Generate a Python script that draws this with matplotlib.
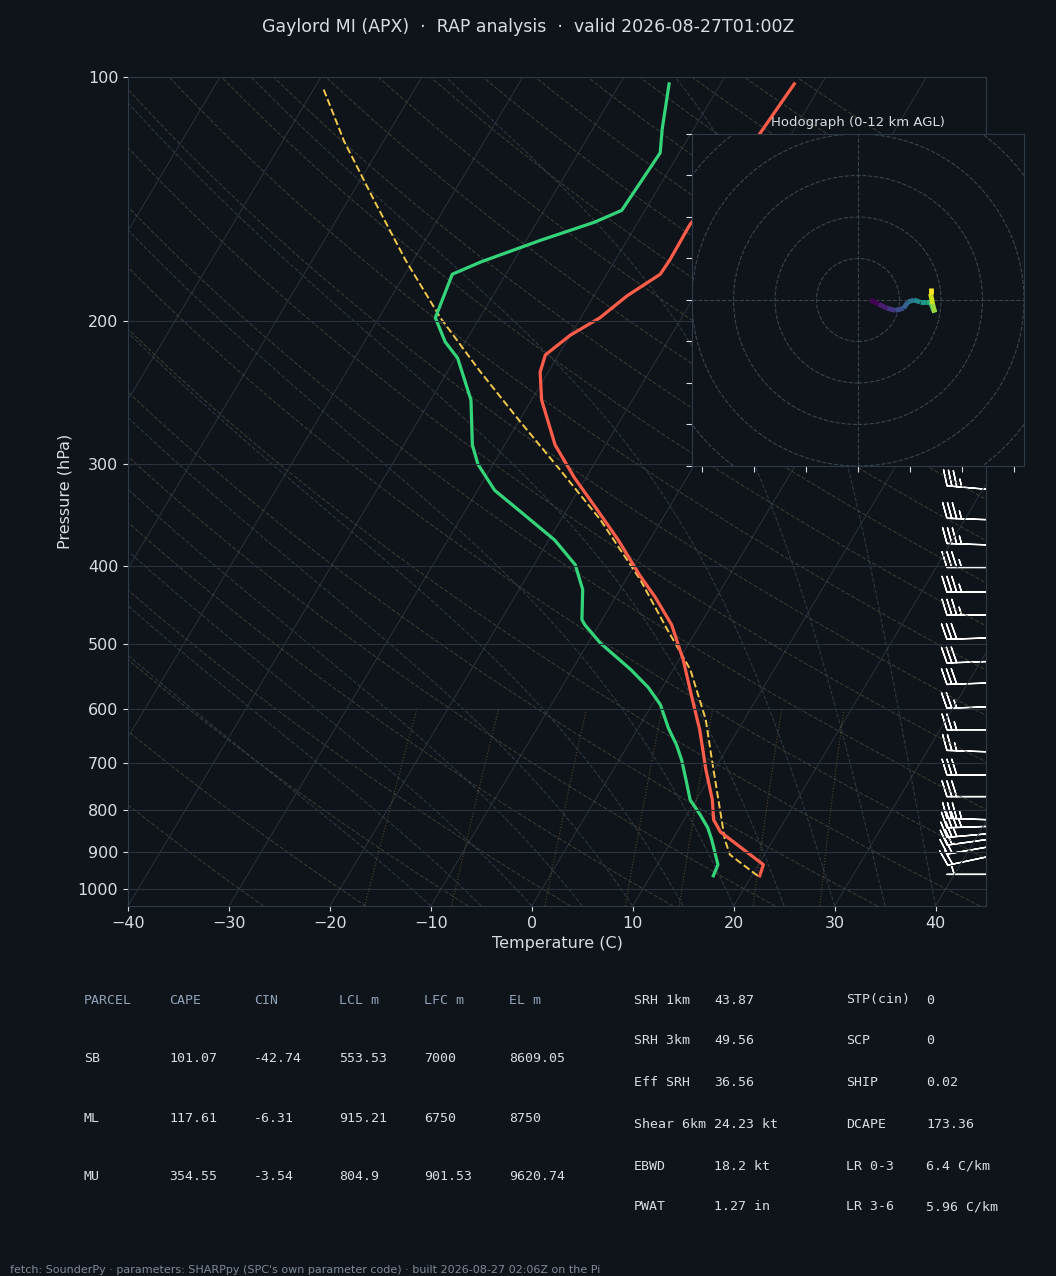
import numpy as np
import matplotlib.pyplot as plt

BG = '#0f141a'
GRID = '#2a333d'
TXT = '#d8dde3'

# sounding (hPa, C)
p_t = [964, 934, 851, 822, 777, 714, 637, 585, 522, 473, 437, 411, 372, 342, 312, 284, 250, 231, 220, 208, 198, 186, 175, 168, 152, 130, 102]
temp = [20.8, 20.5, 14.3, 12.9, 11.6, 9.2, 6.2, 3.7, 0.4, -2.8, -6.1, -8.9, -13.1, -16.9, -21.1, -25.0, -29.0, -30.8, -31.3, -30.0, -28.1, -26.7, -24.7, -24.6, -24.7, -23.5, -22.7]
p_td = [964, 934, 870, 841, 811, 777, 734, 694, 665, 634, 593, 565, 537, 498, 473, 466, 428, 399, 372, 343, 323, 300, 284, 250, 222, 212, 198, 175, 169, 159, 151, 146, 124, 116, 102]
dewp = [16.2, 16.0, 13.9, 12.8, 11.3, 9.4, 7.8, 6.2, 4.8, 3.0, 0.8, -1.4, -4.2, -8.8, -11.4, -12.0, -13.7, -15.9, -19.4, -24.5, -28.3, -31.5, -33.2, -36.0, -39.8, -42.0, -44.4, -45.3, -43.2, -38.6, -34.3, -32.3, -31.9, -33.1, -35.1]
p_parcel = [964, 908, 870, 777, 694, 619, 537, 480, 416, 351, 305, 265, 230, 198, 168, 142, 120, 103]
t_parcel = [20.6, 16.6, 15.2, 12.2, 9.2, 6.2, 1.7, -2.9, -8.6, -16.1, -23.0, -30.0, -36.9, -43.9, -50.8, -57.4, -63.9, -69.2]

# winds (hPa, deg, kt)
p_wind = [322, 351, 377, 402, 431, 460, 491, 525, 558, 597, 637, 678, 724, 770, 822, 838, 856, 870, 889, 914, 960]
wdir = [275, 272, 272, 270, 270, 270, 268, 268, 268, 268, 270, 272, 270, 270, 272, 268, 265, 262, 260, 258, 270]
wspd = [35, 35, 35, 35, 35, 35, 30, 30, 30, 25, 25, 25, 30, 30, 35, 35, 25, 20, 20, 20, 5]

# hodograph trace (kt)
hodo_u = [6, 10, 14, 18, 22, 24, 27, 30, 33, 35, 36, 37, 36, 35, 35]
hodo_v = [0, -2, -4, -5, -4, -1, 0, -1, -1, -1, -4, -6, -2, 3, 6]

SKEW = 48.1
def sx(t, p):
    return np.asarray(t) + SKEW * np.log10(1050.0 / np.asarray(p, dtype=float))

fig = plt.figure(figsize=(10.56, 12.76), dpi=100, facecolor=BG)
ax = fig.add_axes([0.1212, 0.29, 0.8125, 0.6497], facecolor=BG)
ax.set_yscale('log')
ax.set_ylim(1050, 100)
ax.set_xlim(-40, 45)

pp = np.logspace(np.log10(1050), 2, 200)
# isotherms
for t0 in range(-160, 50, 10):
    ax.plot(sx(np.full_like(pp, t0), pp), pp, color='#2a323b', lw=0.7)
# dry adiabats
for th in range(-30, 220, 10):
    tk = (th + 273.15) * (pp / 1000) ** 0.2857 - 273.15
    ax.plot(sx(tk, pp), pp, color='#454a3c', lw=0.8, ls='--', alpha=0.7)
# moist adiabats
def es(t):
    return 6.112 * np.exp(17.67 * t / (t + 243.5))
for t0 in range(-10, 45, 5):
    ps = np.linspace(1050, 100, 400)
    ts = [t0]
    for i in range(1, len(ps)):
        t = ts[-1]; tk = t + 273.15
        rs = 0.622 * es(t) / (ps[i-1] - es(t))
        num = 287 * tk + 2.5e6 * rs
        den = 1004 + 2.5e6**2 * rs * 0.622 / (287 * tk**2)
        dt = num / den / ps[i-1] * (ps[i] - ps[i-1])
        ts.append(t + dt)
    ax.plot(sx(ts, ps), ps, color='#33404a', lw=0.8, ls='--', alpha=0.8)
# mixing ratio lines
pm = np.linspace(1050, 600, 50)
for w in [1, 2, 4, 7, 10, 16, 24]:
    e = pm * w / 1000 / (0.622 + w / 1000)
    td = 243.5 * np.log(e / 6.112) / (17.67 - np.log(e / 6.112))
    ax.plot(sx(td, pm), pm, color='#6b5a3a', lw=0.8, ls=':', alpha=0.7)

ax.plot(sx(t_parcel, p_parcel), p_parcel, color='#f2c84b', lw=1.4, ls='--')
ax.plot(sx(temp, p_t), p_t, color='#ff5c4a', lw=2.3)
ax.plot(sx(dewp, p_td), p_td, color='#34d47a', lw=2.3)

yt = [100, 200, 300, 400, 500, 600, 700, 800, 900, 1000]
ax.set_yticks(yt)
ax.set_yticklabels([str(v) for v in yt])
ax.yaxis.set_minor_locator(plt.NullLocator())
for v in yt:
    ax.axhline(v, color=GRID, lw=0.8)
ax.set_xticks(range(-40, 50, 10))
ax.tick_params(colors=TXT, labelsize=11.5)
ax.set_xlabel('Temperature (C)', color=TXT, fontsize=11.5)
ax.set_ylabel('Pressure (hPa)', color=TXT, fontsize=11.5)
for s in ax.spines.values():
    s.set_color('#2e3a47')

wd = np.radians(wdir)
u = -np.array(wspd) * np.sin(wd)
v = -np.array(wspd) * np.cos(wd)
ax.barbs(np.full(len(p_wind), 45.0), p_wind, u, v, color='white', length=7.5, lw=1.0, clip_on=False)

# hodograph
hx = fig.add_axes([0.6553, 0.6348, 0.3144, 0.2602], facecolor=BG)
hx.set_xlim(-80, 80); hx.set_ylim(-80, 80)
for r in [20, 40, 60, 80, 100]:
    hx.add_patch(plt.Circle((0, 0), r, fill=False, color='#3a444f', ls='--', lw=0.8))
hx.axhline(0, color='#3a444f', ls='--', lw=0.8)
hx.axvline(0, color='#3a444f', ls='--', lw=0.8)
cols = plt.cm.viridis(np.linspace(0, 1, len(hodo_u) - 1))
for i in range(len(hodo_u) - 1):
    hx.plot(hodo_u[i:i+2], hodo_v[i:i+2], color=cols[i], lw=3.5, solid_capstyle='butt')
hx.set_xticks(range(-75, 100, 25)); hx.set_yticks(range(-80, 90, 20))
hx.set_xticklabels([]); hx.set_yticklabels([])
hx.tick_params(colors=TXT, direction='out', length=4)
for s in hx.spines.values():
    s.set_color('#2e3a47')
hx.set_title('Hodograph (0-12 km AGL)', color=TXT, fontsize=9.5, pad=6)

fig.text(0.5, 0.979, 'Gaylord MI (APX)  ·  RAP analysis  ·  valid 2026-08-27T01:00Z',
         ha='center', va='center', color=TXT, fontsize=12.5)

# parameter table
HDR = '#8fa3b8'
heads = ['PARCEL', 'CAPE', 'CIN', 'LCL m', 'LFC m', 'EL m']
rows = [['SB', '101.07', '-42.74', '553.53', '7000', '8609.05'],
        ['ML', '117.61', '-6.31', '915.21', '6750', '8750'],
        ['MU', '354.55', '-3.54', '804.9', '901.53', '9620.74']]
colx = [84, 169, 254, 339, 424, 509]
rowy = [1000, 1059, 1118, 1176]
for j, h in enumerate(heads):
    fig.text(colx[j] / 1056, 1 - rowy[0] / 1276, h, color=HDR, family='DejaVu Sans Mono', fontsize=9.5, va='center')
for i, r in enumerate(rows):
    for j, c in enumerate(r):
        fig.text(colx[j] / 1056, 1 - rowy[i+1] / 1276, c, color=TXT, family='DejaVu Sans Mono', fontsize=9.5, va='center')

left_lbl = ['SRH 1km', 'SRH 3km', 'Eff SRH', 'Shear 6km', 'EBWD', 'PWAT']
left_val = ['43.87', '49.56', '36.56', '24.23 kt', '18.2 kt', '1.27 in']
right_lbl = ['STP(cin)', 'SCP', 'SHIP', 'DCAPE', 'LR 0-3', 'LR 3-6']
right_val = ['0', '0', '0.02', '173.36', '6.4 C/km', '5.96 C/km']
ry = [1000, 1041, 1083, 1124, 1166, 1207]
for i in range(6):
    y = 1 - ry[i] / 1276
    fig.text(634 / 1056, y, left_lbl[i], color=TXT, family='DejaVu Sans Mono', fontsize=9.5, va='center')
    fig.text(714 / 1056, y, left_val[i], color=TXT, family='DejaVu Sans Mono', fontsize=9.5, va='center')
    fig.text(846 / 1056, y, right_lbl[i], color=TXT, family='DejaVu Sans Mono', fontsize=9.5, va='center')
    fig.text(926 / 1056, y, right_val[i], color=TXT, family='DejaVu Sans Mono', fontsize=9.5, va='center')

fig.text(10 / 1056, 1 - 1270 / 1276, "fetch: SounderPy · parameters: SHARPpy (SPC's own parameter code) · built 2026-08-27 02:06Z on the Pi",
         color='#7d8a97', fontsize=8, va='center')

fig.savefig('out.png', dpi=100, facecolor=BG)
